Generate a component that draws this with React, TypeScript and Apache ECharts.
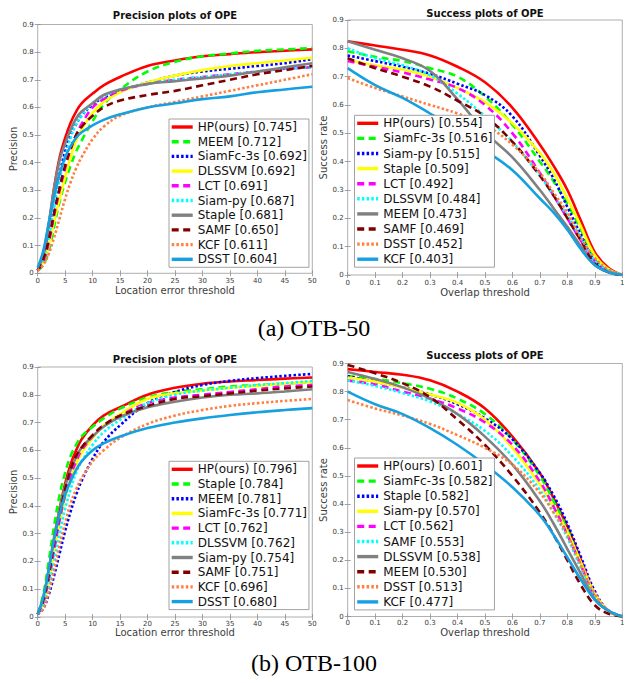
import React, { useEffect, useRef } from "react";
import * as echarts from "echarts";

const precisionThresholds = [0, 1, 2, 3, 4, 5, 6, 7, 8, 10, 12, 15, 20, 25, 30, 35, 40, 45, 50];
const overlapThresholds = [0, 0.1, 0.2, 0.3, 0.4, 0.5, 0.6, 0.7, 0.75, 0.8, 0.85, 0.9, 0.95, 1];
const precisionTicks = { min: 0, max: 50, interval: 5 };
const overlapTicks = { min: 0, max: 1, interval: 0.1 };
const rateTicks = { min: 0, max: 0.9, interval: 0.1 };

// (a) OTB-50, precision
const otb50PrecNames = ["HP(ours) [0.745]", "MEEM [0.712]", "SiamFc-3s [0.692]", "DLSSVM [0.692]", "LCT [0.691]", "Siam-py [0.687]", "Staple [0.681]", "SAMF [0.650]", "KCF [0.611]", "DSST [0.604]"];
const otb50PrecValues = [
  [0.01, 0.06, 0.17, 0.31, 0.42, 0.49, 0.545, 0.585, 0.615, 0.65, 0.68, 0.71, 0.75, 0.77, 0.785, 0.793, 0.8, 0.805, 0.81],
  [0.01, 0.03, 0.08, 0.17, 0.26, 0.33, 0.39, 0.44, 0.48, 0.55, 0.61, 0.665, 0.73, 0.765, 0.785, 0.795, 0.805, 0.81, 0.815],
  [0.01, 0.05, 0.13, 0.25, 0.36, 0.44, 0.5, 0.54, 0.57, 0.61, 0.635, 0.66, 0.69, 0.715, 0.73, 0.74, 0.75, 0.76, 0.775],
  [0.01, 0.04, 0.1, 0.19, 0.27, 0.35, 0.42, 0.48, 0.52, 0.58, 0.62, 0.655, 0.69, 0.715, 0.735, 0.75, 0.76, 0.77, 0.78],
  [0.01, 0.04, 0.11, 0.21, 0.3, 0.38, 0.45, 0.5, 0.54, 0.6, 0.63, 0.66, 0.685, 0.7, 0.71, 0.72, 0.73, 0.74, 0.745],
  [0.01, 0.05, 0.13, 0.24, 0.34, 0.42, 0.49, 0.54, 0.57, 0.615, 0.64, 0.665, 0.685, 0.7, 0.71, 0.72, 0.73, 0.74, 0.745],
  [0.01, 0.07, 0.18, 0.31, 0.41, 0.47, 0.52, 0.56, 0.585, 0.615, 0.645, 0.665, 0.685, 0.695, 0.705, 0.715, 0.73, 0.745, 0.76],
  [0.01, 0.05, 0.12, 0.22, 0.31, 0.39, 0.45, 0.5, 0.53, 0.57, 0.6, 0.625, 0.645, 0.66, 0.68, 0.7, 0.72, 0.735, 0.75],
  [0.01, 0.03, 0.07, 0.13, 0.2, 0.27, 0.33, 0.38, 0.42, 0.485, 0.53, 0.57, 0.6, 0.62, 0.64, 0.66, 0.68, 0.7, 0.72],
  [0.02, 0.08, 0.18, 0.28, 0.36, 0.42, 0.46, 0.49, 0.51, 0.535, 0.555, 0.575, 0.6, 0.615, 0.63, 0.64, 0.655, 0.665, 0.675],
];

// (a) OTB-50, success
const otb50SuccNames = ["HP(ours) [0.554]", "SiamFc-3s [0.516]", "Siam-py [0.515]", "Staple [0.509]", "LCT [0.492]", "DLSSVM [0.484]", "MEEM [0.473]", "SAMF [0.469]", "DSST [0.452]", "KCF [0.403]"];
const otb50SuccValues = [
  [0.825, 0.81, 0.795, 0.775, 0.735, 0.68, 0.59, 0.46, 0.385, 0.3, 0.19, 0.08, 0.025, 0],
  [0.79, 0.77, 0.755, 0.73, 0.7, 0.63, 0.53, 0.4, 0.33, 0.25, 0.16, 0.06, 0.02, 0],
  [0.775, 0.755, 0.735, 0.71, 0.675, 0.635, 0.56, 0.42, 0.34, 0.24, 0.14, 0.05, 0.015, 0],
  [0.76, 0.74, 0.725, 0.7, 0.66, 0.61, 0.535, 0.43, 0.36, 0.27, 0.17, 0.07, 0.02, 0],
  [0.755, 0.735, 0.715, 0.69, 0.66, 0.6, 0.5, 0.36, 0.28, 0.2, 0.12, 0.05, 0.015, 0],
  [0.8, 0.765, 0.74, 0.705, 0.64, 0.56, 0.47, 0.35, 0.28, 0.21, 0.13, 0.05, 0.015, 0],
  [0.825, 0.795, 0.765, 0.72, 0.62, 0.505, 0.415, 0.3, 0.235, 0.17, 0.1, 0.035, 0.01, 0],
  [0.765, 0.73, 0.7, 0.665, 0.615, 0.56, 0.47, 0.35, 0.28, 0.2, 0.12, 0.04, 0.01, 0],
  [0.695, 0.66, 0.63, 0.6, 0.57, 0.53, 0.46, 0.36, 0.29, 0.22, 0.13, 0.06, 0.02, 0],
  [0.73, 0.67, 0.625, 0.57, 0.51, 0.44, 0.37, 0.27, 0.22, 0.16, 0.09, 0.035, 0.01, 0],
];

// (b) OTB-100, precision
const otb100PrecNames = ["HP(ours) [0.796]", "Staple [0.784]", "MEEM [0.781]", "SiamFc-3s [0.771]", "LCT [0.762]", "DLSSVM [0.762]", "Siam-py [0.754]", "SAMF [0.751]", "KCF [0.696]", "DSST [0.680]"];
const otb100PrecValues = [
  [0.01, 0.06, 0.16, 0.28, 0.39, 0.48, 0.55, 0.6, 0.64, 0.69, 0.725, 0.755, 0.8, 0.825, 0.84, 0.848, 0.853, 0.858, 0.862],
  [0.01, 0.08, 0.2, 0.33, 0.44, 0.52, 0.58, 0.62, 0.65, 0.685, 0.715, 0.75, 0.79, 0.81, 0.82, 0.83, 0.835, 0.84, 0.845],
  [0.01, 0.03, 0.08, 0.15, 0.23, 0.31, 0.38, 0.44, 0.49, 0.57, 0.63, 0.69, 0.77, 0.81, 0.835, 0.85, 0.86, 0.868, 0.875],
  [0.01, 0.05, 0.13, 0.24, 0.34, 0.43, 0.5, 0.55, 0.59, 0.645, 0.69, 0.73, 0.785, 0.805, 0.815, 0.825, 0.832, 0.84, 0.845],
  [0.01, 0.05, 0.13, 0.24, 0.35, 0.44, 0.51, 0.56, 0.6, 0.65, 0.69, 0.725, 0.77, 0.79, 0.8, 0.81, 0.82, 0.83, 0.835],
  [0.01, 0.04, 0.11, 0.2, 0.3, 0.39, 0.46, 0.52, 0.56, 0.62, 0.665, 0.71, 0.77, 0.8, 0.815, 0.825, 0.835, 0.842, 0.85],
  [0.01, 0.07, 0.17, 0.29, 0.39, 0.47, 0.53, 0.575, 0.61, 0.65, 0.685, 0.72, 0.755, 0.775, 0.79, 0.8, 0.805, 0.812, 0.82],
  [0.01, 0.06, 0.15, 0.27, 0.37, 0.46, 0.53, 0.58, 0.61, 0.655, 0.69, 0.725, 0.76, 0.785, 0.795, 0.805, 0.815, 0.823, 0.83],
  [0.01, 0.03, 0.09, 0.17, 0.26, 0.34, 0.41, 0.46, 0.5, 0.56, 0.6, 0.645, 0.695, 0.725, 0.745, 0.76, 0.77, 0.778, 0.785],
  [0.01, 0.07, 0.17, 0.28, 0.37, 0.44, 0.49, 0.53, 0.56, 0.6, 0.625, 0.65, 0.68, 0.7, 0.715, 0.727, 0.737, 0.745, 0.752],
];

// (b) OTB-100, success
const otb100SuccNames = ["HP(ours) [0.601]", "SiamFc-3s [0.582]", "Staple [0.582]", "Siam-py [0.570]", "LCT [0.562]", "SAMF [0.553]", "DLSSVM [0.538]", "MEEM [0.530]", "DSST [0.513]", "KCF [0.477]"];
const otb100SuccValues = [
  [0.88, 0.87, 0.86, 0.84, 0.8, 0.74, 0.64, 0.51, 0.42, 0.32, 0.2, 0.08, 0.02, 0],
  [0.855, 0.845, 0.83, 0.81, 0.775, 0.72, 0.63, 0.5, 0.41, 0.31, 0.19, 0.07, 0.02, 0],
  [0.855, 0.835, 0.815, 0.79, 0.755, 0.705, 0.63, 0.51, 0.43, 0.33, 0.21, 0.09, 0.02, 0],
  [0.85, 0.835, 0.815, 0.79, 0.76, 0.7, 0.6, 0.47, 0.39, 0.3, 0.19, 0.08, 0.02, 0],
  [0.84, 0.825, 0.8, 0.775, 0.74, 0.69, 0.61, 0.48, 0.39, 0.29, 0.18, 0.07, 0.02, 0],
  [0.84, 0.82, 0.795, 0.765, 0.72, 0.66, 0.57, 0.45, 0.37, 0.28, 0.17, 0.07, 0.02, 0],
  [0.87, 0.845, 0.815, 0.775, 0.72, 0.64, 0.54, 0.41, 0.33, 0.24, 0.15, 0.06, 0.02, 0],
  [0.895, 0.865, 0.83, 0.78, 0.7, 0.61, 0.5, 0.37, 0.29, 0.2, 0.11, 0.04, 0.01, 0],
  [0.77, 0.74, 0.715, 0.685, 0.645, 0.6, 0.54, 0.44, 0.37, 0.29, 0.18, 0.08, 0.02, 0],
  [0.8, 0.755, 0.72, 0.67, 0.61, 0.54, 0.46, 0.36, 0.29, 0.21, 0.13, 0.06, 0.02, 0],
];

const panelTitles = ["Precision plots of OPE", "Success plots of OPE", "Precision plots of OPE", "Success plots of OPE"];
const xAxisNames = ["Location error threshold", "Overlap threshold", "Location error threshold", "Overlap threshold"];
const yAxisNames = ["Precision", "Success rate", "Precision", "Success rate"];
const captions = ["(a) OTB-50", "(b) OTB-100"];

// styles by rank
const rankColors = ["#ff0000", "#00ff00", "#0000ff", "#ffff00", "#ff00ff", "#00ffff", "#808080", "#800000", "#ff8040", "#16a0e0"];
const DASH = [7, 4.5];
const DOT = [2.5, 2.2];
const rankDash: any[] = ["solid", DASH, DOT, "solid", DASH, DOT, "solid", DASH, DOT, "solid"];

const FONT = "DejaVu Sans";

export default function App() {
  const ref = useRef<HTMLDivElement>(null);
  useEffect(() => {
    if (!ref.current) return;
    const chart = echarts.init(ref.current, null, { renderer: "svg" });

    const panels = [
      { names: otb50PrecNames, values: otb50PrecValues, xs: precisionThresholds, xt: precisionTicks,
        grid: { left: 37.7, top: 24.5, width: 274.6, height: 248.8 }, legend: { left: 169, top: 119, gap: 2.7 },
        title: { x: 175, y: 15 }, xNameGap: 12.5, xLabelMargin: 4 },
      { names: otb50SuccNames, values: otb50SuccValues, xs: overlapThresholds, xt: overlapTicks,
        grid: { left: 347.7, top: 20, width: 274.6, height: 255 }, legend: { left: 354.5, top: 115.3, gap: 3.1 },
        title: { x: 485, y: 13.5 }, xNameGap: 12, xLabelMargin: 4 },
      { names: otb100PrecNames, values: otb100PrecValues, xs: precisionThresholds, xt: precisionTicks,
        grid: { left: 37.7, top: 367, width: 274.6, height: 250 }, legend: { left: 169, top: 461.3, gap: 2.7 },
        title: { x: 175, y: 359 }, xNameGap: 8, xLabelMargin: 3 },
      { names: otb100SuccNames, values: otb100SuccValues, xs: overlapThresholds, xt: overlapTicks,
        grid: { left: 347.7, top: 363.5, width: 274.6, height: 253 }, legend: { left: 354.5, top: 458, gap: 3.1 },
        title: { x: 485, y: 355 }, xNameGap: 8, xLabelMargin: 3 },
    ];

    const grids: any[] = [];
    const xAxes: any[] = [];
    const yAxes: any[] = [];
    const legends: any[] = [];
    const series: any[] = [];
    const graphics: any[] = [];

    const tickStyle = { inside: true, length: 3, lineStyle: { color: "#8c8c8c", width: 0.8 } };
    const labelStyle = { fontFamily: FONT, fontSize: 7, color: "#3a3a3a" };

    panels.forEach((p, i) => {
      grids.push({ ...p.grid, show: true, borderColor: "#9a9a9a", borderWidth: 0.8, backgroundColor: "#fff" });
      xAxes.push({
        gridIndex: i, type: "value", position: "bottom", ...p.xt,
        axisLine: { show: false }, axisTick: tickStyle, splitLine: { show: false },
        axisLabel: { ...labelStyle, margin: p.xLabelMargin, showMaxLabel: true, showMinLabel: true },
        name: xAxisNames[i], nameLocation: "middle", nameGap: p.xNameGap,
        nameTextStyle: { fontFamily: FONT, fontSize: 10, color: "#404040" },
      });
      xAxes.push({
        gridIndex: i, type: "value", position: "top", ...p.xt,
        axisLine: { show: false }, axisTick: tickStyle, splitLine: { show: false }, axisLabel: { show: false },
      });
      yAxes.push({
        gridIndex: i, type: "value", position: "left", ...rateTicks,
        axisLine: { show: false }, axisTick: tickStyle, splitLine: { show: false },
        axisLabel: { ...labelStyle, margin: 4 },
        name: yAxisNames[i], nameLocation: "middle", nameGap: 17,
        nameTextStyle: { fontFamily: FONT, fontSize: 10, color: "#404040" },
      });
      yAxes.push({
        gridIndex: i, type: "value", position: "right", ...rateTicks,
        axisLine: { show: false }, axisTick: tickStyle, splitLine: { show: false }, axisLabel: { show: false },
      });
      legends.push({
        orient: "vertical", left: p.legend.left, top: p.legend.top,
        padding: [2, 2, 2, 1], itemGap: p.legend.gap, itemWidth: 21, itemHeight: 10,
        backgroundColor: "#fff", borderColor: "#8a8a8a", borderWidth: 0.8,
        textStyle: { fontFamily: FONT, fontSize: 12, color: "#111" },
        lineStyle: { width: 3.4 }, itemStyle: { opacity: 0 },
        selectedMode: false, data: p.names,
      });
      p.names.forEach((name, k) => {
        series.push({
          type: "line", name, xAxisIndex: 2 * i, yAxisIndex: 2 * i,
          data: p.xs.map((x, j) => [x, p.values[k][j]]),
          symbol: "none", showSymbol: false, smooth: 0.4,
          lineStyle: { color: rankColors[k], width: 2.6, type: rankDash[k], cap: "butt" },
          itemStyle: { color: rankColors[k] },
          silent: true,
        });
      });
      graphics.push({
        type: "text", x: p.title.x, y: p.title.y, silent: true,
        style: { text: panelTitles[i], font: `bold 10px "${FONT}"`, fill: "#111", align: "center", verticalAlign: "middle" },
      });
    });

    graphics.push({
      type: "text", x: 314, y: 328, silent: true,
      style: { text: captions[0], font: '24px "Liberation Serif"', fill: "#000", align: "center", verticalAlign: "middle" },
    });
    graphics.push({
      type: "text", x: 314, y: 663, silent: true,
      style: { text: captions[1], font: '24px "Liberation Serif"', fill: "#000", align: "center", verticalAlign: "middle" },
    });

    chart.setOption({
      animation: false,
      backgroundColor: "#fff",
      grid: grids,
      xAxis: xAxes,
      yAxis: yAxes,
      legend: legends,
      series,
      graphic: graphics,
    });
    return () => chart.dispose();
  }, []);
  return <div ref={ref} style={{ position: "absolute", left: 0, top: 0, width: 629, height: 683 }} />;
}
